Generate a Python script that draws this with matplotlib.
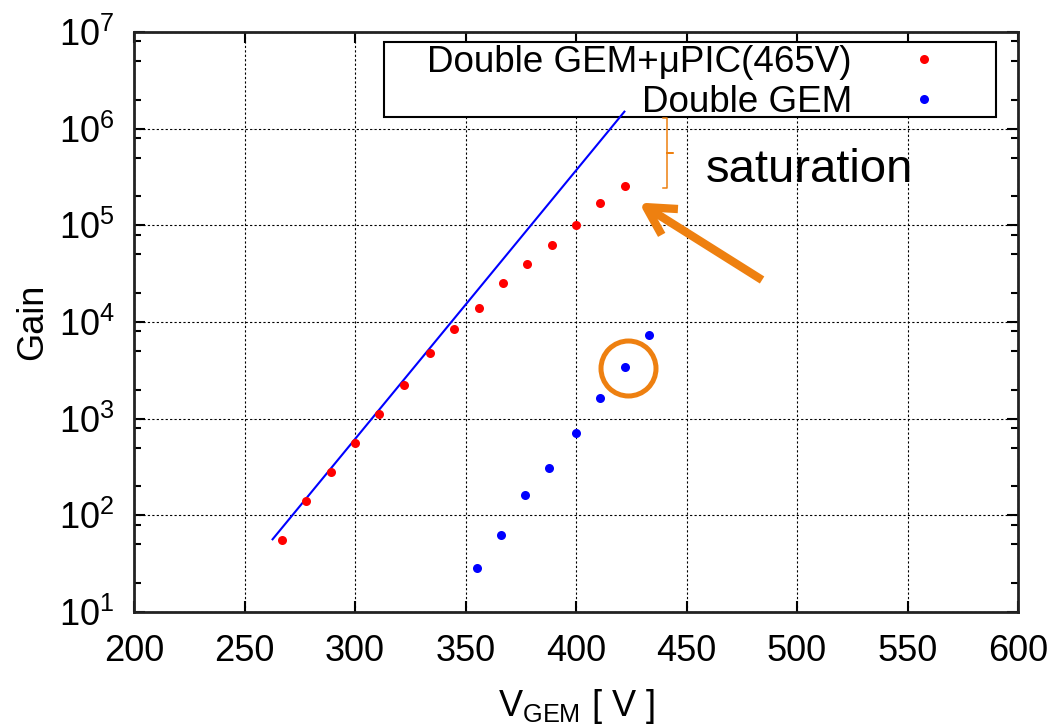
import matplotlib
matplotlib.use("Agg")
import matplotlib.pyplot as plt
from matplotlib.patches import Rectangle
from matplotlib.ticker import LogLocator, NullFormatter

plt.rcParams['font.family'] = ['Liberation Sans', 'DejaVu Sans']
plt.rcParams['mathtext.fontset'] = 'custom'
plt.rcParams['mathtext.rm'] = 'Liberation Sans'
plt.rcParams['mathtext.it'] = 'Liberation Sans:italic'
plt.rcParams['mathtext.bf'] = 'Liberation Sans:bold'

# ---- data ----
v_gem_upic = [267, 278, 289, 300, 311, 322, 334, 345, 356, 367, 378, 389, 400, 411, 422]
gain_gem_upic = [56, 140, 282, 564, 1125, 2245, 4740, 8470, 14060, 25300, 39500,
                 62700, 101000, 169000, 255000]

v_gem = [355, 366, 377, 388, 400, 411, 422, 433]
gain_gem = [28.3, 62, 163, 309, 706, 1650, 3400, 7280]

fit_v = [262.7, 421.9]
fit_gain = [56.5, 1.5e6]

label_upic = "Double GEM+\u03bcPIC(465V)"
label_gem = "Double GEM"

x_ticks = [200, 250, 300, 350, 400, 450, 500, 550, 600]
y_exponents = [1, 2, 3, 4, 5, 6, 7]

# annotation geometry (data coords)
bracket_v = [439.4, 441.2, 441.2, 443.9, 441.2, 441.2, 439.4]
bracket_gain = [1.29e6, 1.29e6, 5.6e5, 5.6e5, 5.6e5, 2.43e5, 2.43e5]
arrow_tip = (428.5, 1.72e5)
arrow_tail = (484.2, 2.72e4)
circle_center = (423.7, 3370)
sat_pos = (458.8, 2.8e5)

orange = '#EE8010'

fig = plt.figure(figsize=(10.56, 7.27), dpi=100)
ax = fig.add_axes([134/1056, 1 - 612/727, (1018-134)/1056, (612-32)/727])

ax.set_yscale('log')
ax.set_xlim(200, 600)
ax.set_ylim(10, 1e7)

ax.plot(fit_v, fit_gain, color='#0000FF', lw=1.5, zorder=3)
ax.plot(v_gem_upic, gain_gem_upic, 'o', color='#FF0000', ms=6.5, mew=0,
        label=label_upic, zorder=4)
ax.plot(v_gem, gain_gem, 'o', color='#0000FF', ms=6.5, mew=0,
        label=label_gem, zorder=4)

# annotations
ax.plot(bracket_v, bracket_gain, color=orange, lw=1.1, zorder=4)
ax.annotate('', xy=arrow_tip, xytext=arrow_tail,
            arrowprops=dict(arrowstyle='->,head_length=2.0,head_width=1.1',
                            color=orange, lw=6, mutation_scale=10,
                            shrinkA=0, shrinkB=0, capstyle='butt'), zorder=5)
ax.plot([circle_center[0]], [circle_center[1]], 'o', ms=39.6, mfc='none',
        mec=orange, mew=3.6, zorder=5)
ax.text(sat_pos[0], sat_pos[1], 'saturation', fontsize=34, ha='left',
        va='baseline', zorder=5)

# ticks
ax.set_xticks(x_ticks)
ax.set_xticklabels([str(t) for t in x_ticks])
ax.set_yticks([10.0**e for e in y_exponents])
ax.set_yticklabels([r'$\mathregular{10^{%d}}$' % e for e in y_exponents])
ax.yaxis.set_minor_locator(LogLocator(base=10, subs=(2.0, 5.0, 8.0), numticks=20))
ax.yaxis.set_minor_formatter(NullFormatter())
ax.tick_params(axis='both', which='major', direction='in', length=8, width=1.5,
               top=True, right=True, labelsize=26, colors='black')
ax.tick_params(axis='x', which='major', pad=16)
ax.tick_params(axis='y', which='major', pad=14)
ax.tick_params(axis='y', which='minor', direction='in', length=5, width=1.5,
               left=True, right=True)

for s in ax.spines.values():
    s.set_linewidth(2)
    s.set_color('#222222')

ax.grid(True, which='major', color='black', lw=0.8, linestyle=(0, (2, 2)))
ax.set_axisbelow(True)

ax.set_xlabel(r'$\mathregular{V_{GEM}}$ [ V ]', fontsize=26, labelpad=13)
ax.set_ylabel('Gain', fontsize=26, labelpad=6)

# legend (gnuplot style key)
ax.add_patch(Rectangle((0.2828, 0.8534), 0.975 - 0.2828, 0.9828 - 0.8534,
                       transform=ax.transAxes, facecolor='white',
                       edgecolor='black', lw=1.5, zorder=2.5))
leg = ax.legend(loc='upper right', bbox_to_anchor=(0.914, 0.978),
                frameon=False, markerfirst=False, fontsize=26.5,
                handlelength=1.0, handletextpad=1.45, borderpad=0,
                labelspacing=0.13, borderaxespad=0)
leg.set_zorder(6)

fig.savefig('out.png', dpi=100)
